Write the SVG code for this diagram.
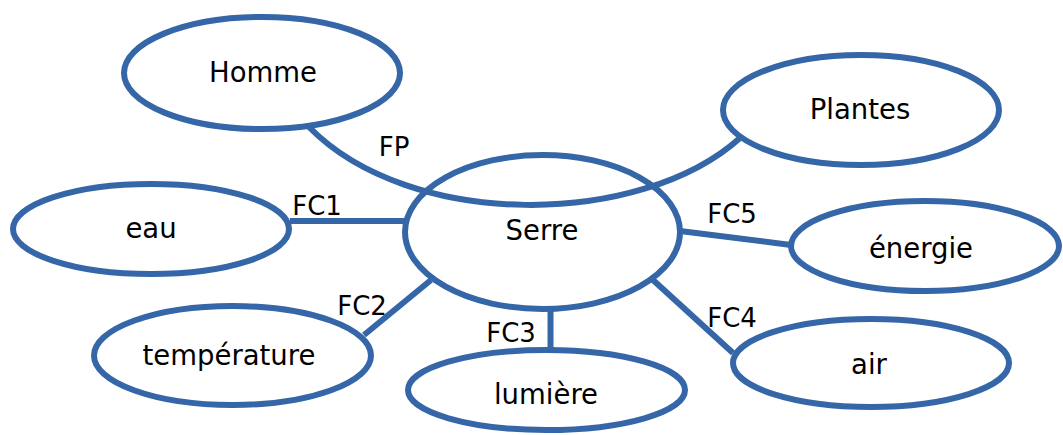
<svg xmlns="http://www.w3.org/2000/svg" width="1063" height="435" viewBox="0 0 1063 435">
<style>
.node{fill:#ffffff;stroke:#3566a7;stroke-width:6}
.link{fill:none;stroke:#3566a7;stroke-width:6}
.lbl{font-family:"Comic Sans MS","DejaVu Sans",sans-serif;font-size:27.5px;fill:#000000;text-anchor:middle}
.fc{font-family:"Comic Sans MS","DejaVu Sans",sans-serif;font-size:26px;fill:#000000;text-anchor:middle}
</style>
<rect width="1063" height="435" fill="#ffffff"/>
<g id="node-homme"><ellipse class="node" cx="262" cy="73" rx="138" ry="56"/><text class="lbl" x="263" y="82">Homme</text></g>
<g id="node-plantes"><ellipse class="node" cx="861" cy="110" rx="138" ry="55"/><text class="lbl" x="860" y="119">Plantes</text></g>
<g id="node-serre"><ellipse class="node" cx="542.5" cy="232" rx="137.5" ry="77"/><text class="lbl" x="542" y="240">Serre</text></g>
<g id="node-eau"><ellipse class="node" cx="151" cy="229" rx="138" ry="45"/><text class="lbl" x="151" y="238">eau</text></g>
<g id="node-temperature"><ellipse class="node" cx="232.5" cy="355.5" rx="138.5" ry="49.5"/><text class="lbl" x="229" y="365">température</text></g>
<g id="node-lumiere"><ellipse class="node" cx="546.5" cy="390" rx="138.5" ry="40"/><text class="lbl" x="546" y="404">lumière</text></g>
<g id="node-energie"><ellipse class="node" cx="925" cy="246" rx="134" ry="45"/><text class="lbl" x="921" y="258">énergie</text></g>
<g id="node-air"><ellipse class="node" cx="871" cy="363" rx="138" ry="44"/><text class="lbl" x="869" y="374">air</text></g>
<g id="connectors">
<path class="link" d="M309,127 C410,230 640,228 740,138"/>
<line class="link" x1="290" y1="221" x2="405" y2="221"/>
<line class="link" x1="364" y1="335" x2="431" y2="280"/>
<line class="link" x1="550.5" y1="309" x2="550.5" y2="351"/>
<line class="link" x1="653" y1="280" x2="733" y2="353"/>
<line class="link" x1="680" y1="231" x2="791" y2="245"/>
<text class="fc" x="394" y="156">FP</text>
<text class="fc" x="317" y="215">FC1</text>
<text class="fc" x="362" y="315">FC2</text>
<text class="fc" x="511" y="342">FC3</text>
<text class="fc" x="732" y="327">FC4</text>
<text class="fc" x="732" y="223">FC5</text>
</g>
</svg>
